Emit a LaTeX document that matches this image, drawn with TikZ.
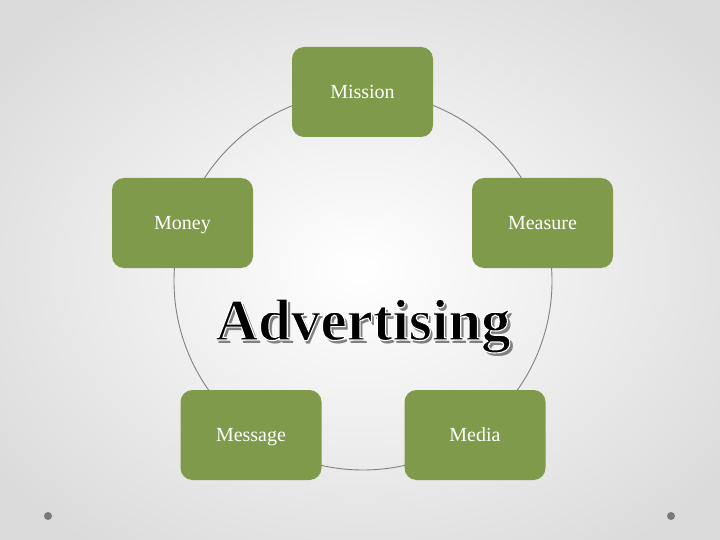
\documentclass[tikz,border=0pt]{standalone}
\usepackage{fontspec}
\setmainfont{Liberation Serif}
\definecolor{boxgreen}{HTML}{7E9A4A}
\definecolor{ringgray}{HTML}{808080}
\definecolor{dotgray}{HTML}{7A7A7A}
\newcommand{\outlinedtext}[1]{\special{pdf:literal direct 2 Tr 1 1 1 RG 1.1 w}#1\special{pdf:literal direct 0 Tr 0 0 0 RG 1 w}}
\tikzset{
  stepbox/.style={draw=none, fill=boxgreen, rounded corners=12pt,
    minimum width=141pt, minimum height=90pt, inner sep=0pt, text depth=0pt,
    text=white, font=\fontsize{20}{24}\selectfont},
  ring/.style={draw=ringgray, line width=0.9pt},
  adv/.style={font=\fontsize{59}{64}\selectfont\bfseries, anchor=base, inner sep=0pt}
}
\begin{document}
\begin{tikzpicture}[x=1pt,y=-1pt]
  \useasboundingbox (0,0) rectangle (720,540);
  \shade[inner color=white, outer color=black!14] (-90,-70) rectangle (810,610);
  % ring
  \draw[ring] (363,281) circle[radius=189pt];
  % boxes
  \node[stepbox] (mission) at (362.5,92) {Mission};
  \node[stepbox] (money) at (182.5,223) {Money};
  \node[stepbox] (measure) at (542.5,223) {Measure};
  \node[stepbox] (message) at (251,435) {Message};
  \node[stepbox] (media) at (475,435) {Media};
  % title with shadow
  \node[adv, text=black!50] (advshadow) at (366,343) {Advertising};
  \node[adv, text=black] (adv) at (363,340) {\outlinedtext{Advertising}};
  % dots
  \fill[dotgray] (48,516) circle[radius=4pt] coordinate (dotl);
  \fill[dotgray] (671,516) circle[radius=4pt] coordinate (dotr);
\end{tikzpicture}
\end{document}
